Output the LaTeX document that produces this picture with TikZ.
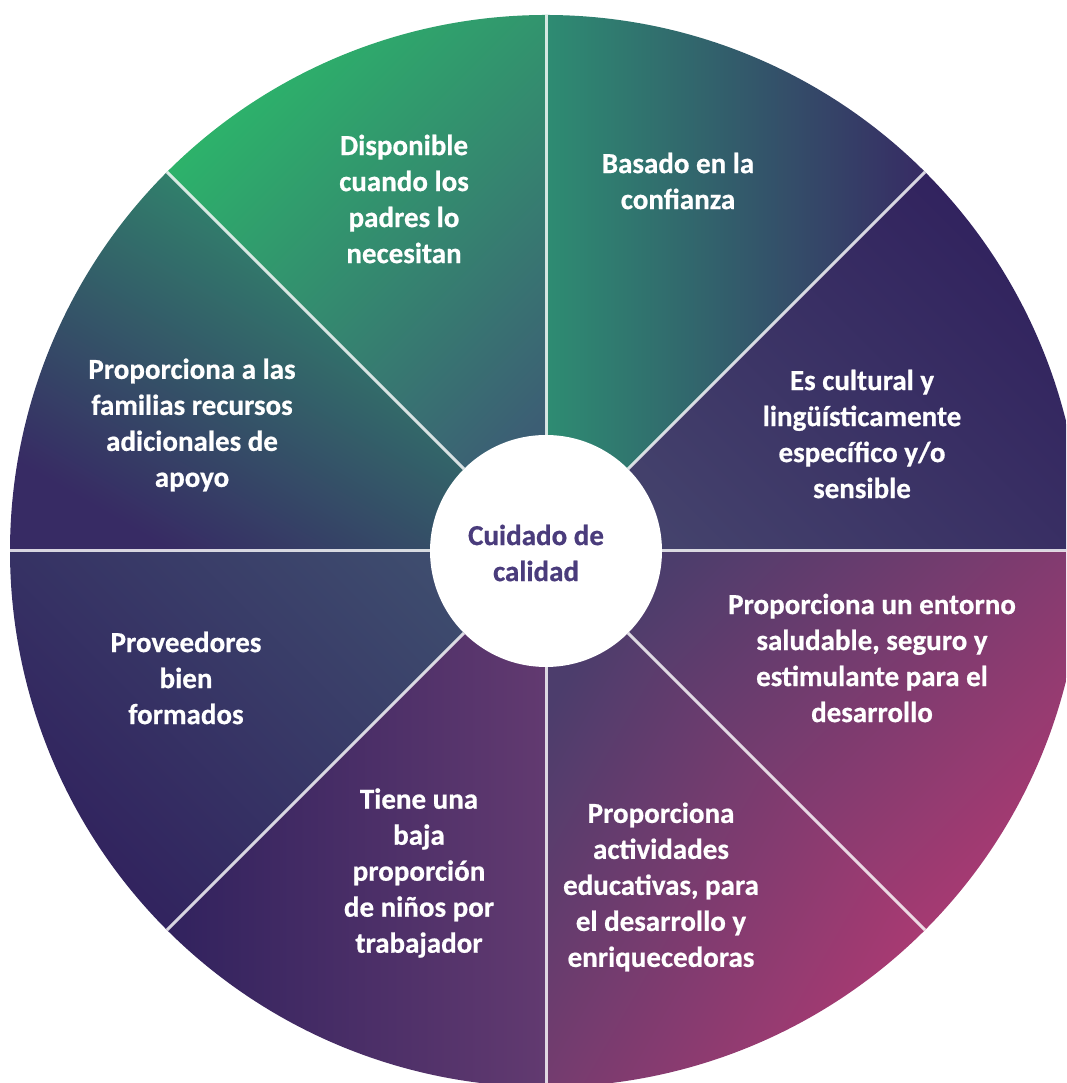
\documentclass[tikz,border=0pt]{standalone}
\usepackage{fontspec}
\setmainfont{Carlito}[BoldFeatures={FakeBold=0.6}]
\usetikzlibrary{calc}
\definecolor{gGreen}{HTML}{2CB56A}
\definecolor{gTealA}{HTML}{2F9C6E}
\definecolor{gTealB}{HTML}{3C5E74}
\definecolor{gTealC}{HTML}{2E8C72}
\definecolor{gInk}{HTML}{372B64}
\definecolor{gInkD}{HTML}{31225E}
\definecolor{gInkL}{HTML}{44426C}
\definecolor{gSlate}{HTML}{3E4C6E}
\definecolor{gPlum}{HTML}{4C3D6C}
\definecolor{gMag}{HTML}{A83A72}
\definecolor{gMagB}{HTML}{623A70}
\definecolor{hubText}{HTML}{4A3C7C}
\tikzset{
  lbl/.style={text=white, align=center, inner sep=0pt,
    font=\bfseries\fontsize{29}{36}\selectfont},
  hubl/.style={text=hubText, align=center, inner sep=0pt,
    font=\bfseries\fontsize{29}{36}\selectfont},
  divider/.style={draw=white, draw opacity=0.8, line width=3pt},
}
\begin{document}
\begin{tikzpicture}[x=1pt,y=1pt]
\useasboundingbox (0,0) rectangle (1066,1083);
\clip (0,0) rectangle (1066,1083);
\coordinate (O) at (546,532);
% sectors
\shade[left color=gGreen, right color=gTealB, shading angle=45]
  (O) -- ++(90:536) arc[start angle=90,end angle=135,radius=536] -- cycle;
\shade[left color=gTealC, right color=gInk]
  (O) -- ++(45:536) arc[start angle=45,end angle=90,radius=536] -- cycle;
\shade[left color=gInkL, right color=gInkD, shading angle=135]
  (O) -- ++(0:536) arc[start angle=0,end angle=45,radius=536] -- cycle;
\shade[left color=gPlum, right color=gMag, shading angle=45]
  (O) -- ++(-45:536) arc[start angle=-45,end angle=0,radius=536] -- cycle;
\shade[left color=gPlum, right color=gMag, shading angle=60]
  (O) -- ++(-90:536) arc[start angle=-90,end angle=-45,radius=536] -- cycle;
\shade[left color=gInkD, right color=gMagB]
  (O) -- ++(-135:536) arc[start angle=-135,end angle=-90,radius=536] -- cycle;
\shade[left color=gInkD, right color=gSlate, shading angle=135]
  (O) -- ++(180:536) arc[start angle=180,end angle=225,radius=536] -- cycle;
\shade[left color=gTealA, right color=gInk, shading angle=-30]
  (O) -- ++(135:536) arc[start angle=135,end angle=180,radius=536] -- cycle;
% hub
\node[circle, fill=white, minimum size=232pt, inner sep=0pt] (hub) at (O) {};
\foreach \a in {0,45,...,315}
  \draw[divider] (hub.\a) -- ($(O)+(\a:536)$);
\node[hubl] (hubtxt) at (536,530) {Cuidado de\\calidad};
% labels
\node[lbl] (s1) at (404,884) {Disponible\\cuando los\\padres lo\\necesitan};
\node[lbl] (s2) at (678,902) {Basado en la\\confianza};
\node[lbl] (s3) at (862,649) {Es cultural y\\lingüísticamente\\específico y/o\\sensible};
\node[lbl] (s4) at (872,425) {Proporciona un entorno\\saludable, seguro y\\estimulante para el\\desarrollo};
\node[lbl] (s5) at (661,196) {Proporciona\\actividades\\educativas, para\\el desarrollo y\\enriquecedoras};
\node[lbl] (s6) at (419,210) {Tiene una\\baja\\proporción\\de niños por\\trabajador};
\node[lbl] (s7) at (186,405) {Proveedores\\bien\\formados};
\node[lbl] (s8) at (192,658) {Proporciona a las\\familias recursos\\adicionales de\\apoyo};
\end{tikzpicture}
\end{document}
